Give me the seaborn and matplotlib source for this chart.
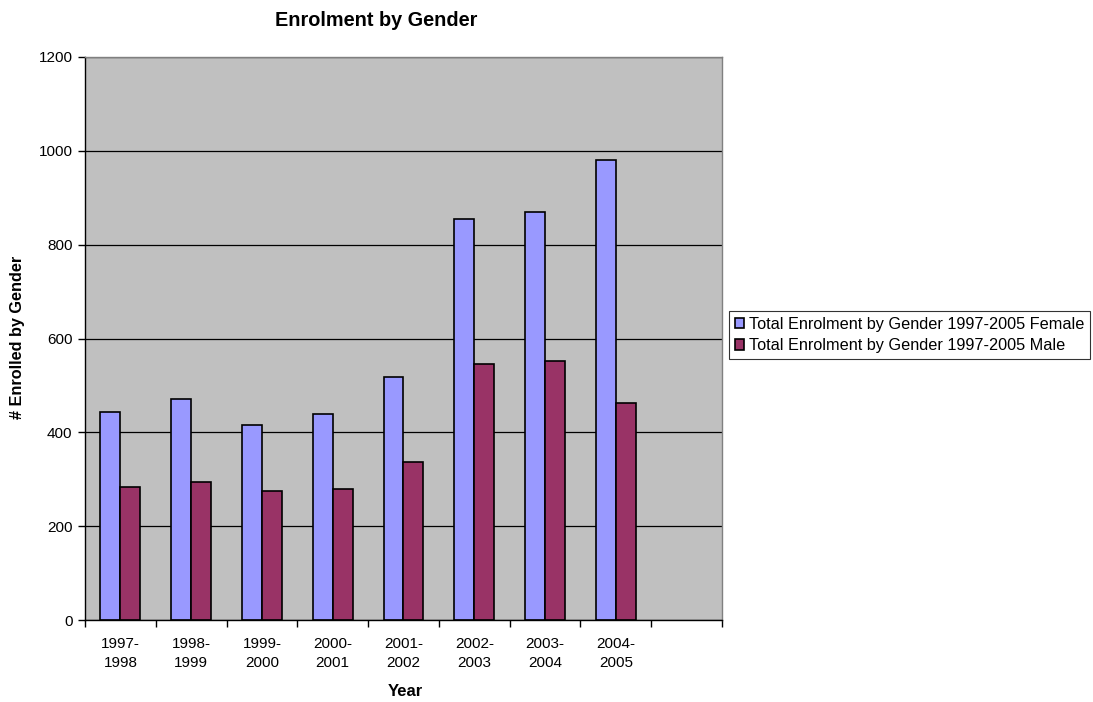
import matplotlib
matplotlib.use("Agg")
import matplotlib.pyplot as plt
import seaborn as sns
import pandas as pd
import numpy as np

years = ["1997-\n1998", "1998-\n1999", "1999-\n2000", "2000-\n2001", "2001-\n2002",
         "2002-\n2003", "2003-\n2004", "2004-\n2005"]
female = [443, 470, 416, 439, 518, 854, 869, 980]
male = [284, 294, 276, 279, 337, 546, 552, 462]
series_names = ["Total Enrolment by Gender 1997-2005 Female",
                "Total Enrolment by Gender 1997-2005 Male"]
colors = ["#9999FF", "#993366"]

sns.set_style("white")
plt.rcParams['font.family'] = ['Liberation Sans', 'DejaVu Sans']
plt.rcParams['text.color'] = 'black'
plt.rcParams['xtick.color'] = 'black'
plt.rcParams['ytick.color'] = 'black'
plt.rcParams['axes.labelcolor'] = 'black'

df = pd.DataFrame({
    "Year": years * 2,
    "Value": female + male,
    "Series": [series_names[0]] * len(years) + [series_names[1]] * len(years),
})

fig = plt.figure(figsize=(10.93, 7.02), dpi=100)
ax = fig.add_axes([85/1093, 1 - 620/702, (722-85)/1093, (620-57)/702])
ax.set_facecolor("#C0C0C0")

sns.barplot(data=df, x="Year", y="Value", hue="Series", order=years,
            hue_order=series_names, palette=colors, width=0.565, saturation=1,
            edgecolor="black", linewidth=1.2, ax=ax, legend=True)

ax.set_xlim(-0.5, 8.5)
ax.set_ylim(0, 1200)
ax.set_yticks(range(0, 1201, 200))
ax.yaxis.grid(True, color="black", linewidth=0.9)
ax.set_axisbelow(True)

ax.set_xticks(range(len(years)))
ax.set_xticklabels(years, fontsize=11, linespacing=1.45, color="black")
ax.set_xticks(np.arange(-0.5, 9.0, 1.0), minor=True)
ax.tick_params(axis="both", which="both", bottom=True, left=True)
ax.tick_params(axis="x", which="major", length=0, pad=12.5)
ax.tick_params(axis="x", which="minor", length=5, width=1, color="black", direction="out")
ax.tick_params(axis="y", length=5, width=1, color="black", direction="out", labelsize=11,
               labelcolor="black", pad=4)

for s in ["left", "bottom"]:
    ax.spines[s].set_color("black")
    ax.spines[s].set_linewidth(1)
for s in ["top", "right"]:
    ax.spines[s].set_color("#808080")
    ax.spines[s].set_linewidth(1)

ax.set_xlabel("")
ax.set_ylabel("")
fig.text(405/1093, 1 - 691/702, "Year", ha="center", va="center", fontsize=12,
         fontweight="bold", color="black")
fig.text(18/1093, 1 - 337/702, "# Enrolled by Gender", ha="center", va="center",
         rotation=90, fontsize=11.7, fontweight="bold", color="black")
fig.text(376/1093, 1 - 21/702, "Enrolment by Gender", ha="center", va="center",
         fontsize=14.3, fontweight="bold", color="black")

leg = ax.legend(loc="upper left", bbox_to_anchor=(729/1093, 1 - 311/702),
                bbox_transform=fig.transFigure, frameon=True, fontsize=11.7,
                fancybox=False, handlelength=0.6, handleheight=0.6,
                handletextpad=0.3, borderpad=0.35, labelspacing=0.4, borderaxespad=0)
leg.get_frame().set_edgecolor("black")
leg.get_frame().set_linewidth(0.8)
for t in leg.get_texts():
    t.set_color("black")
for h in leg.legend_handles:
    h.set_edgecolor("black")

fig.savefig("out.png", dpi=100)
